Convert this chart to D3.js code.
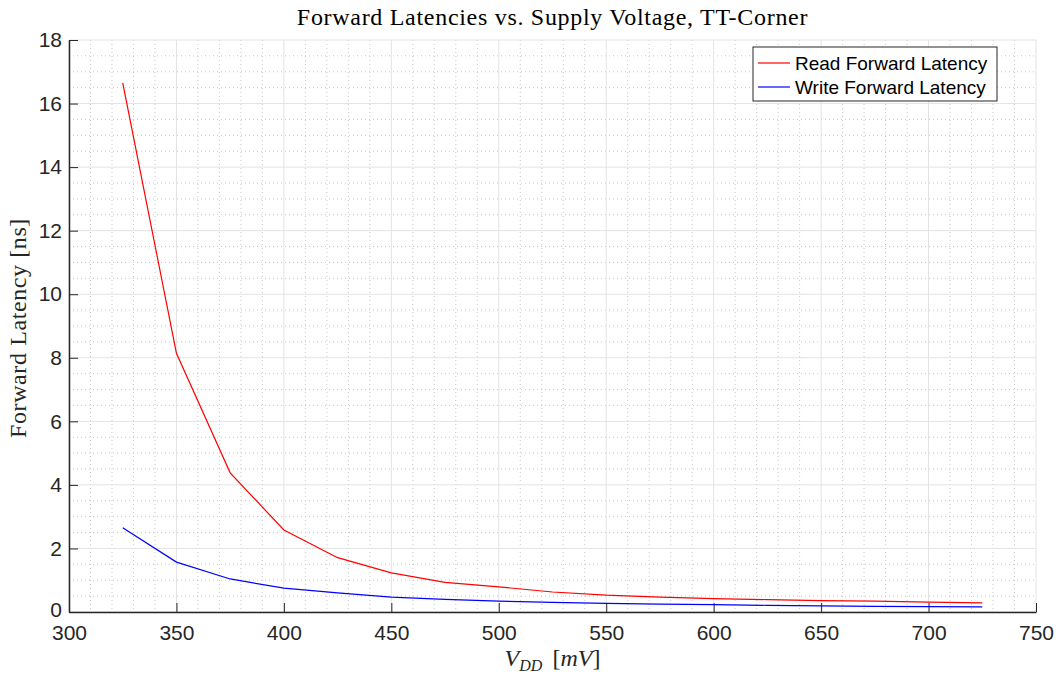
<!DOCTYPE html>
<html>
<head>
<meta charset="utf-8">
<script src="https://cdn.jsdelivr.net/npm/d3@7"></script>
<style>
  body { margin: 0; background: #fff; }
  svg { display: block; }
</style>
</head>
<body>
<div id="chart"></div>
<script>
const voltages = [325, 350, 375, 400, 425, 450, 475, 500, 525, 550, 575, 600, 625, 650, 675, 700, 725];
const readLatency = [16.65, 8.14, 4.38, 2.58, 1.71, 1.23, 0.93, 0.79, 0.63, 0.53, 0.47, 0.42, 0.39, 0.36, 0.34, 0.31, 0.29];
const writeLatency = [2.65, 1.57, 1.04, 0.75, 0.6, 0.47, 0.4, 0.34, 0.3, 0.27, 0.25, 0.23, 0.21, 0.19, 0.18, 0.17, 0.16];
const xTicks = [300, 350, 400, 450, 500, 550, 600, 650, 700, 750];
const yTicks = [0, 2, 4, 6, 8, 10, 12, 14, 16, 18];
const seriesNames = ["Read Forward Latency", "Write Forward Latency"];

const width = 1061;
const height = 677;
const margin = { top: 40, right: 25, bottom: 65, left: 69 };
const w = width - margin.left - margin.right;
const h = height - margin.top - margin.bottom;

const svg = d3.select("#chart")
  .append("svg")
  .attr("width", width)
  .attr("height", height);

const g = svg.append("g")
  .attr("transform", `translate(${margin.left},${margin.top})`);

const x = d3.scaleLinear().domain([300, 750]).range([0, w]);
const y = d3.scaleLinear().domain([0, 18]).range([h, 0]);

// minor grid
g.append("g")
  .selectAll("line")
  .data(d3.range(300, 751, 10).filter(v => v % 50 !== 0))
  .enter().append("line")
  .attr("x1", d => x(d)).attr("x2", d => x(d))
  .attr("y1", 0).attr("y2", h)
  .attr("stroke", "#c8c8c8")
  .attr("stroke-width", 1)
  .attr("stroke-dasharray", "1,3");

g.append("g")
  .selectAll("line")
  .data(d3.range(0, 18.01, 0.5).filter(v => v % 2 !== 0))
  .enter().append("line")
  .attr("x1", 0).attr("x2", w)
  .attr("y1", d => y(d)).attr("y2", d => y(d))
  .attr("stroke", "#c8c8c8")
  .attr("stroke-width", 1)
  .attr("stroke-dasharray", "1,3");

// major grid
g.append("g")
  .selectAll("line")
  .data(xTicks)
  .enter().append("line")
  .attr("x1", d => x(d)).attr("x2", d => x(d))
  .attr("y1", 0).attr("y2", h)
  .attr("stroke", "#e3e3e3");

g.append("g")
  .selectAll("line")
  .data(yTicks)
  .enter().append("line")
  .attr("x1", 0).attr("x2", w)
  .attr("y1", d => y(d)).attr("y2", d => y(d))
  .attr("stroke", "#e3e3e3");

// axes
const xAxis = g.append("g")
  .attr("transform", `translate(0,${h})`)
  .call(d3.axisBottom(x).tickValues(xTicks).tickSizeInner(-9).tickSizeOuter(0).tickPadding(13));

const yAxis = g.append("g")
  .call(d3.axisLeft(y).tickValues(yTicks).tickSizeInner(-9).tickSizeOuter(0).tickPadding(7));

[xAxis, yAxis].forEach(a => {
  a.select(".domain").attr("stroke", "#262626").attr("stroke-width", 1.5);
  a.selectAll(".tick line").attr("stroke", "#262626");
  a.selectAll("text")
    .attr("fill", "#262626")
    .style("font-family", "Liberation Sans, Arial, sans-serif")
    .style("font-size", "21px");
});
// lift the "0" a little so it doesn't collide with "300"
yAxis.selectAll(".tick").filter(d => d === 0).select("text").attr("dy", "0.22em");

// lines
const line = d3.line()
  .x((d, i) => x(voltages[i]))
  .y(d => y(d));

g.append("path")
  .datum(readLatency)
  .attr("d", line)
  .attr("fill", "none")
  .attr("stroke", "#ff0000")
  .attr("stroke-width", 1.2);

g.append("path")
  .datum(writeLatency)
  .attr("d", line)
  .attr("fill", "none")
  .attr("stroke", "#0000ff")
  .attr("stroke-width", 1.2);

// title & labels
svg.append("text")
  .attr("x", margin.left + w / 2)
  .attr("y", 25)
  .attr("text-anchor", "middle")
  .style("font-family", "Liberation Serif, Times New Roman, serif")
  .style("font-size", "24px")
  .style("letter-spacing", "0.7px")
  .attr("fill", "#000")
  .text("Forward Latencies vs. Supply Voltage, TT-Corner");

svg.append("text")
  .attr("transform", `translate(26,${margin.top + h / 2 + 2}) rotate(-90)`)
  .attr("text-anchor", "middle")
  .style("font-family", "Liberation Serif, Times New Roman, serif")
  .style("font-size", "24px")
  .style("letter-spacing", "0.6px")
  .attr("fill", "#262626")
  .text("Forward Latency [ns]");

const xl = svg.append("text")
  .attr("x", margin.left + w / 2)
  .attr("y", 666)
  .attr("text-anchor", "middle")
  .style("font-family", "Liberation Serif, Times New Roman, serif")
  .style("font-size", "24px")
  .style("font-style", "italic")
  .attr("fill", "#262626");
xl.append("tspan").text("V");
xl.append("tspan").attr("dy", 5).style("font-size", "16px").text("DD");
xl.append("tspan").attr("dy", -5).attr("dx", 10).style("font-style", "normal").text("[");
xl.append("tspan").text("mV");
xl.append("tspan").style("font-style", "normal").text("]");

// legend
const legend = svg.append("g").attr("transform", "translate(753,47)");
legend.append("rect")
  .attr("width", 244)
  .attr("height", 54)
  .attr("fill", "#fff")
  .attr("stroke", "#262626")
  .attr("stroke-width", 1);

const colors = ["#ff0000", "#0000ff"];
seriesNames.forEach((name, i) => {
  legend.append("line")
    .attr("x1", 5).attr("x2", 37)
    .attr("y1", 16 + i * 24).attr("y2", 16 + i * 24)
    .attr("stroke", colors[i])
    .attr("stroke-width", 1.2);
  legend.append("text")
    .attr("x", 42)
    .attr("y", 16 + i * 24)
    .attr("dy", "0.35em")
    .style("font-family", "Liberation Sans, Arial, sans-serif")
    .style("font-size", "19px")
    .attr("fill", "#000")
    .text(name);
});
</script>
</body>
</html>
